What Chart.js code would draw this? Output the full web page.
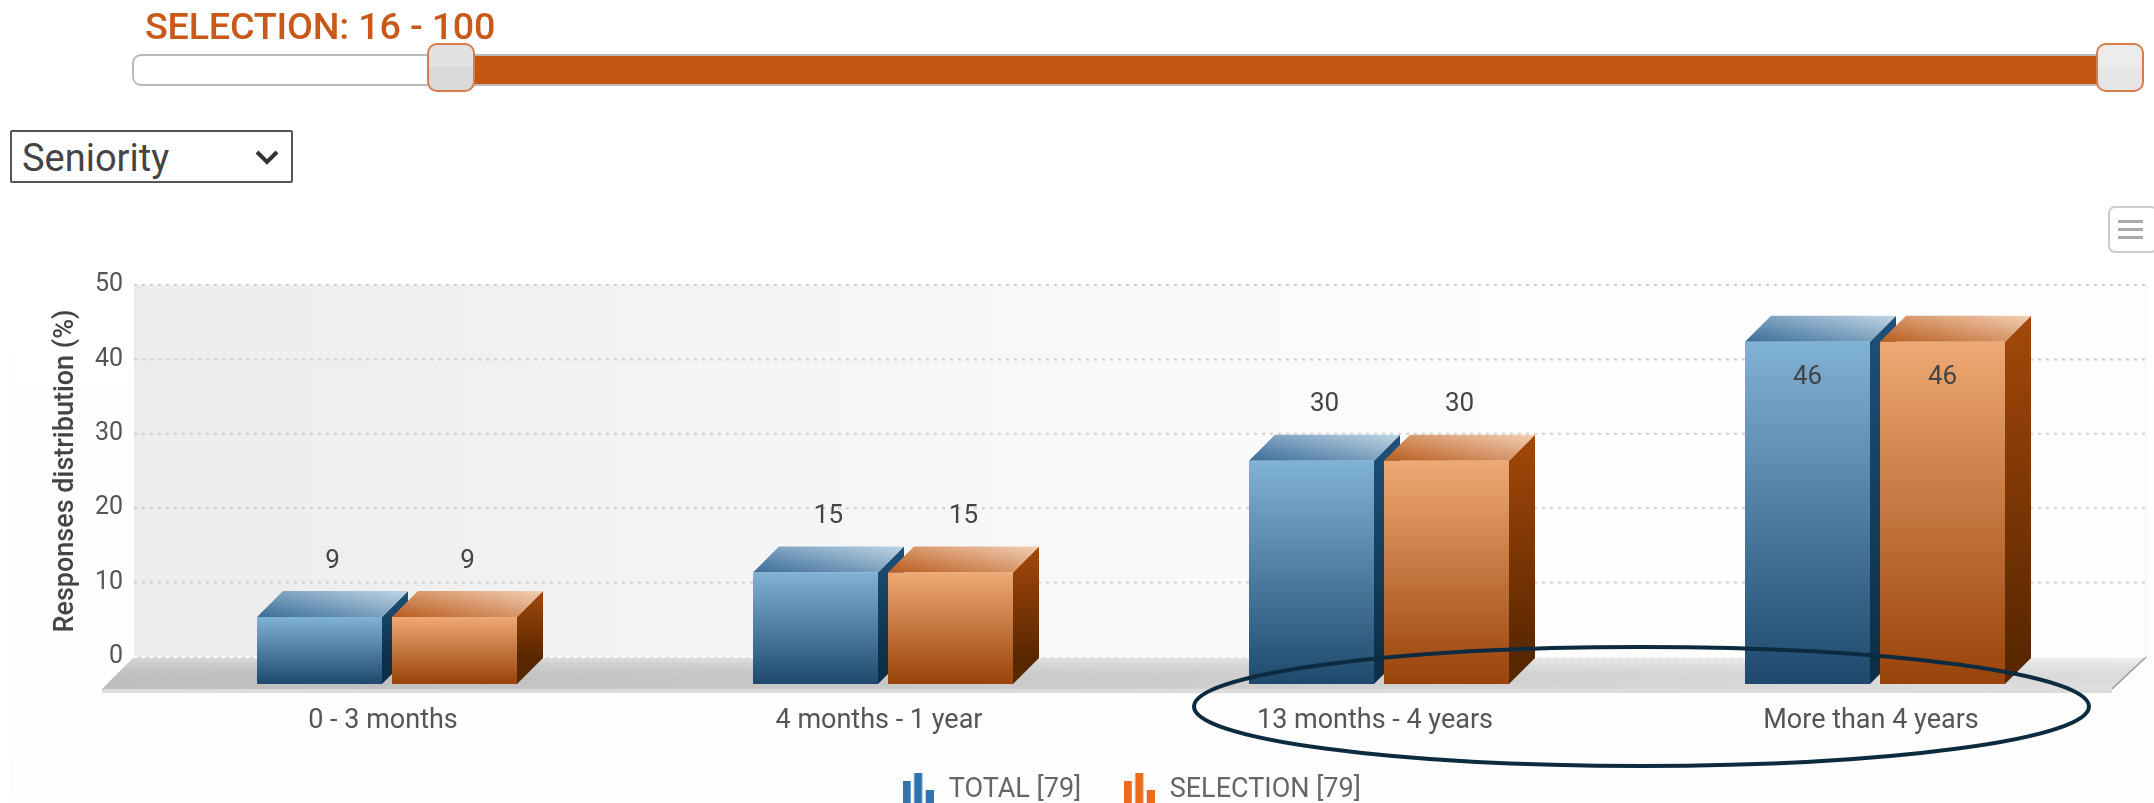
<!DOCTYPE html>
<html>
<head>
<meta charset="utf-8">
<script src="https://cdn.jsdelivr.net/npm/chart.js@4"></script>
<style>
html,body{margin:0;padding:0;background:#fff;width:2154px;height:803px;overflow:hidden;font-family:Roboto,sans-serif}
.abs{position:absolute;box-sizing:border-box}
#bg{left:10px;top:190px;width:2144px;height:613px;background:linear-gradient(#fff,#fdfdfd)}
#wrap{left:0;top:0;width:2154px;height:803px;overflow:hidden}
#title{left:145px;top:6px;font-size:37.7px;line-height:40px;font-weight:500;color:#c8591b;white-space:nowrap;letter-spacing:-.2px}
#track{left:132px;top:54px;width:2010px;height:32px;border:2px solid #b9b9b9;border-radius:9px;background:#fff}
#range{left:450px;top:56px;width:1670px;height:28px;background:#c55611}
.handle{top:43px;width:48px;height:49px;border:2px solid #d97c4c;border-radius:10px}
#h1{left:427px;background:linear-gradient(#e2e2e2 50%,#d9d9d9 50%)}
#h2{left:2096px;background:linear-gradient(#ececec 50%,#e6e6e6 50%)}
#sel{left:10px;top:130px;width:283px;height:53px;border:2px solid #555;border-radius:2px;background:#fff;color:#444;font-size:38px;line-height:52px;padding-left:10px}
#chev{left:254px;top:149px;width:26px;height:16px}
#menu{left:2108px;top:206px;width:50px;height:47px;border:2px solid #ccc;border-radius:7px;background:#fff}
.bar{left:2118px;width:25px;height:3px;background:#aaa}
</style>
</head>
<body>
<div class="abs" id="bg"></div>
<div class="abs" id="wrap"><canvas id="c" width="2154" height="814"></canvas></div>
<div class="abs" id="title">SELECTION: 16 - 100</div>
<div class="abs" id="track"></div>
<div class="abs" id="range"></div>
<div class="abs handle" id="h1"></div>
<div class="abs handle" id="h2"></div>
<div class="abs" id="sel">Seniority</div>
<svg class="abs" id="chev" viewBox="0 0 26 16"><path d="M3 3 L13 13 L23 3" fill="none" stroke="#333" stroke-width="4"/></svg>
<div class="abs" id="menu"></div>
<div class="abs bar" style="top:220px"></div>
<div class="abs bar" style="top:228px"></div>
<div class="abs bar" style="top:236px"></div>
<script>
const categories = ['0 - 3 months', '4 months - 1 year', '13 months - 4 years', 'More than 4 years'];
const totalValues = [9, 15, 30, 46];
const selectionValues = [9, 15, 30, 46];
const seriesNames = ['TOTAL [79]', 'SELECTION [79]'];
const yTicks = [0, 10, 20, 30, 40, 50];
const yTitle = 'Responses distribution (%)';

const SHIFT = 27, DX = 26, DY = 26;
const FONT = 'Roboto';

const PAL = [
  {front:['#80b2d5','#1e496d'], side:['#1f5179','#0e2f47'], top:['#3a6c98','#c0d6e6'], icon:'#2f74ad'},
  {front:['#efa974','#98430a'], side:['#a5480a','#582700'], top:['#b95c1e','#f3d0b5'], icon:'#ec6b1a'}
];

function makeIcon(color){
  const cv = document.createElement('canvas');
  cv.width = 31; cv.height = 37;
  const g = cv.getContext('2d');
  g.fillStyle = color;
  g.fillRect(0, 9, 8, 22);
  g.fillRect(11.5, 1, 8, 30);
  g.fillRect(23, 18, 8, 13);
  return cv;
}
const icons = PAL.map(p => makeIcon(p.icon));

function frontGradient(ctx, i){
  const chart = ctx.chart, s = chart.scales.y;
  if (!s || ctx.parsed === undefined || ctx.parsed === null) return PAL[i].front[0];
  const g = chart.ctx.createLinearGradient(0, s.getPixelForValue(ctx.parsed.y), 0, s.getPixelForValue(0));
  g.addColorStop(0, PAL[i].front[0]);
  g.addColorStop(1, PAL[i].front[1]);
  return g;
}

const scene = {
  id: 'scene',
  afterLayout(chart){ chart.scales.x.bottom += 24; },
  beforeDatasetsDraw(chart){
    const c = chart.ctx, y = chart.scales.y, a = chart.chartArea;
    const wl = a.left - 5, wr = a.right + 23, wt = y.getPixelForValue(50), wb = y.getPixelForValue(0);
    c.save();
    // back wall
    let g = c.createLinearGradient(wl, 0, wr, 0);
    g.addColorStop(0, '#ececec'); g.addColorStop(.45, '#f8f8f8'); g.addColorStop(.75, '#fefefe'); g.addColorStop(1, '#fdfdfd');
    c.fillStyle = g;
    c.fillRect(wl, wt, wr - wl, wb - wt);
    c.strokeStyle = '#f3f3f3'; c.lineWidth = 1;
    c.beginPath(); c.moveTo(wr, wt); c.lineTo(wr, wb); c.stroke();
    // floor
    const fb = wb + 32, fl = wl - 32, fr = wr - 34;
    c.fillStyle = '#dcdcdc';
    c.fillRect(fl, fb, fr - fl, 4);
    g = c.createLinearGradient(fl, 0, fr, 0);
    g.addColorStop(0, '#cccccc'); g.addColorStop(.4, '#d8d8d8'); g.addColorStop(1, '#eeeeee');
    c.fillStyle = g;
    c.beginPath(); c.moveTo(wl, wb); c.lineTo(wr, wb); c.lineTo(fr, fb); c.lineTo(fl, fb); c.closePath(); c.fill();
    g = c.createLinearGradient(0, wb, 0, fb);
    g.addColorStop(0, 'rgba(255,255,255,.25)'); g.addColorStop(1, 'rgba(0,0,0,.06)');
    c.fillStyle = g;
    c.beginPath(); c.moveTo(wl, wb); c.lineTo(wr, wb); c.lineTo(fr, fb); c.lineTo(fl, fb); c.closePath(); c.fill();
    c.strokeStyle = '#999'; c.lineWidth = 1.5;
    c.beginPath(); c.moveTo(wr, wb); c.lineTo(fr, fb); c.stroke();
    // dotted gridlines
    c.setLineDash([3, 5]); c.lineWidth = 2;
    y.ticks.forEach(t => {
      const py = y.getPixelForValue(t.value);
      c.strokeStyle = t.value === 0 ? '#ffffff' : '#cfcfcf';
      c.beginPath(); c.moveTo(wl, py); c.lineTo(wr, py); c.stroke();
    });
    c.setLineDash([]);
    // side and top faces of the bars, behind every front face
    c.translate(0, SHIFT);
    chart.data.datasets.forEach((d, i) => {
      const p = PAL[i];
      chart.getDatasetMeta(i).data.forEach(el => {
        const {x, y: top, base, width} = el.getProps(['x','y','base','width'], true);
        const l = x - width / 2, r = x + width / 2;
        let f = c.createLinearGradient(0, top - DY, 0, base - DY);
        f.addColorStop(0, p.side[0]); f.addColorStop(1, p.side[1]);
        c.fillStyle = f;
        c.beginPath(); c.moveTo(r, top); c.lineTo(r + DX, top - DY); c.lineTo(r + DX, base - DY); c.lineTo(r, base); c.closePath(); c.fill();
        // colour runs across the face's diagonal: dark front-left corner, light back-right corner
        const nx = DY, ny = -width, nl = Math.hypot(nx, ny);
        const ext = ((width + DX) * nx + (-DY) * ny) / nl;
        f = c.createLinearGradient(l, top, l + nx / nl * ext, top + ny / nl * ext);
        f.addColorStop(0, p.top[0]); f.addColorStop(1, p.top[1]);
        c.fillStyle = f;
        c.beginPath(); c.moveTo(l, top); c.lineTo(l + DX, top - DY); c.lineTo(r + DX, top - DY); c.lineTo(r, top); c.closePath(); c.fill();
      });
    });
    c.restore();
  },
  beforeDatasetDraw(chart){ chart.ctx.save(); chart.ctx.translate(0, SHIFT); },
  afterDatasetDraw(chart){ chart.ctx.restore(); },
  afterDatasetsDraw(chart){
    const c = chart.ctx, a = chart.chartArea;
    c.save();
    c.font = '26px ' + FONT;
    c.fillStyle = '#444';
    c.textAlign = 'center'; c.textBaseline = 'middle';
    chart.data.datasets.forEach((d, i) => {
      chart.getDatasetMeta(i).data.forEach((el, j) => {
        const above = el.y - 29;
        const inside = above < a.top + 10;
        c.fillText(String(d.data[j]), inside ? el.x : el.x + DX / 2, inside ? el.y + SHIFT + 36 : above);
      });
    });
    c.restore();
  },
  afterDraw(chart){
    const c = chart.ctx;
    c.save();
    c.strokeStyle = '#0c2b3f'; c.lineWidth = 4;
    c.beginPath(); c.ellipse(1641.5, 706.5, 447.5, 59.5, 0, 0, Math.PI * 2); c.stroke();
    c.restore();
  }
};

new Chart(document.getElementById('c'), {
  type: 'bar',
  data: {
    labels: categories,
    datasets: [
      {label: seriesNames[0], data: totalValues, clip: false, backgroundColor: ctx => frontGradient(ctx, 0)},
      {label: seriesNames[1], data: selectionValues, clip: false, backgroundColor: ctx => frontGradient(ctx, 1)}
    ]
  },
  options: {
    responsive: false,
    animation: false,
    categoryPercentage: 270 / 496,
    barPercentage: 125 / 135,
    layout: {padding: {top: 285, right: 31, left: 0, bottom: 0}},
    plugins: {
      tooltip: {enabled: false},
      legend: {
        position: 'bottom',
        fullSize: false,
        labels: {
          usePointStyle: true,
          pointStyleWidth: 34,
          padding: 41,
          color: '#666',
          font: {family: FONT, size: 27},
          generateLabels: chart => chart.data.datasets.map((d, i) => ({
            text: d.label, pointStyle: icons[i], datasetIndex: i,
            fontColor: '#666', lineWidth: 0, strokeStyle: 'transparent', fillStyle: 'transparent'
          }))
        }
      }
    },
    scales: {
      x: {
        grid: {display: false, drawTicks: false},
        border: {display: false},
        ticks: {padding: 48, labelOffset: -4, color: '#555', font: {family: FONT, size: 27}, maxRotation: 0, autoSkip: false},
        afterFit(s){ s.height = 79; }
      },
      y: {
        min: 0, max: 50,
        afterBuildTicks(s){ s.ticks = yTicks.map(v => ({value: v})); },
        grid: {display: false, drawTicks: false},
        border: {display: false},
        ticks: {padding: 16, color: '#555', font: {family: FONT, size: 25}},
        title: {display: true, text: yTitle, color: '#444', font: {family: FONT, size: 27, weight: '500'}, padding: {top: 50, bottom: 0}},
        afterFit(s){ s.width = 139; }
      }
    }
  },
  plugins: [scene]
});
</script>
</body>
</html>
